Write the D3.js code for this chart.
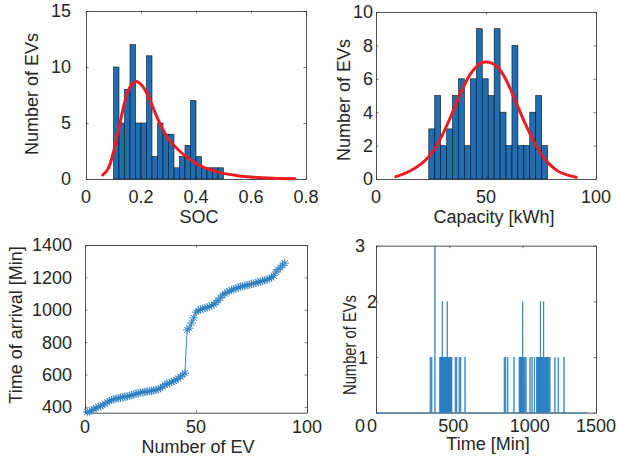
<!DOCTYPE html>
<meta charset="utf-8">
<head>
<style>
  body { margin: 0; background: #fff; }
  svg text { font-family: "Liberation Sans", Arial, sans-serif; fill: #262626; font-size: 18px; }
</style>
</head>
<body>
<svg id="fig" width="617" height="466"></svg>
<script src="https://d3js.org/d3.v7.min.js"></script>
<script>
// ---- data ----
// SOC histogram (20 bins, 0.10 .. 0.50)
var socEdges = [0.10,0.12,0.14,0.16,0.18,0.20,0.22,0.24,0.26,0.28,0.30,0.32,0.34,0.36,0.38,0.40,0.42,0.44,0.46,0.48,0.50];
var socCounts = [10,5,8,12,5,5,11,2,5,4,4,1,2,3,7,2,1,1,1,1];
// fitted curve (x, count)
var socFitX = [0.061,0.08,0.10,0.112,0.124,0.14,0.16,0.183,0.205,0.23,0.255,0.28,0.305,0.34,0.37,0.41,0.45,0.50,0.55,0.60,0.68,0.76];
var socFitY = [0.36,0.9,2.4,3.7,5.0,6.8,8.2,8.7,8.3,7.2,5.7,4.4,3.4,2.5,1.9,1.25,0.85,0.5,0.3,0.17,0.07,0.03];

// Capacity histogram (20 bins, 24 .. 78 kWh)
var capEdges = [24.0,26.7,29.4,32.1,34.8,37.5,40.2,42.9,45.6,48.3,51.0,53.7,56.4,59.1,61.8,64.5,67.2,69.9,72.6,75.3,78.0];
var capCounts = [3,5,2,3,5,6,2,6,9,6,5,9,4,2,8,2,2,4,5,2];
var capFitX = [9,15,21,25,30,34.5,39,43.5,48,50,52,55,58.5,63,67.5,72,77,83,91];
var capFitY = [0.14,0.45,0.95,1.5,2.6,3.9,5.3,6.4,6.95,7.0,6.97,6.75,6.1,4.8,3.4,2.2,1.15,0.45,0.1];

// sorted arrival time of each EV [min]
var arrival = [368,372,378,386,393,400,405,410,420,428,437,442,447,451,454,457,459,462,465,468,
  472,476,481,485,488,490,493,495,497,499,502,505,510,516,524,536,542,547,553,560,
  567,575,586,598,608,876,886,918,950,985,995,1002,1006,1010,1014,1020,1026,1033,1044,1058,
  1074,1090,1100,1108,1115,1121,1127,1132,1137,1142,1145,1149,1152,1155,1159,1162,1166,1170,1174,1178,
  1182,1187,1192,1198,1210,1233,1248,1260,1275,1288];

// EVs arriving per minute (nonzero minutes only)
var spikeTimes = [370,380,402,436,438,440,443,445,447,450,452,455,458,460,462,465,468,470,473,476,478,481,483,486,488,491,494,497,500,503,506,509,511,514,516,
  541,550,568,577,607,
  875,884,898,941,977,982,986,990,993,997,1000,1004,1009,1016,1023,1050,1064,1080,
  1096,1100,1104,1107,1111,1115,1118,1121,1125,1130,1134,1138,1143,1147,1152,1157,1160,1164,1169,1175,1180,1186,1220,1243,1282];
var spikeCounts = [1,1,3,1,1,1,1,1,1,1,2,1,1,1,1,1,1,1,1,1,1,1,1,2,1,1,1,1,1,1,1,1,1,1,1,
  1,1,1,1,1,
  1,1,1,1,1,1,1,1,1,1,2,1,1,1,1,1,1,1,
  1,1,1,1,1,1,1,2,1,1,1,1,2,1,1,1,1,1,1,1,1,1,1,1,1];

var socTicks = [0,0.2,0.4,0.6,0.8], socYTicks = [0,5,10,15];
var capTicks = [0,50,100], capYTicks = [0,2,4,6,8,10];
var evTicks = [0,50,100], arrYTicks = [400,600,800,1000,1200,1400];
var timeTicks = [0,500,1000,1500], numYTicks = [1,2,3];

var blue = "#0072BD", barFill = "#1f6db3", red = "#ec1c24", ink = "#262626";
var svg = d3.select("#fig");
svg.append("rect").attr("width", 617).attr("height", 466).attr("fill", "#fff");

function axes(b, xd, yd, xt, yt) {
  var x = d3.scaleLinear().domain(xd).range([b.l, b.r]);
  var y = d3.scaleLinear().domain(yd).range([b.b, b.t]);
  var g = svg.append("g").attr("color", ink).attr("stroke-width", 0.6);
  var tk = 2.5;
  g.append("g").attr("transform", "translate(0," + b.b + ")")
    .call(d3.axisBottom(x).tickValues(xt).tickSizeInner(-tk).tickSizeOuter(0).tickFormat(""));
  g.append("g").attr("transform", "translate(0," + b.t + ")")
    .call(d3.axisTop(x).tickValues(xt).tickSizeInner(-tk).tickSizeOuter(0).tickFormat(""));
  g.append("g").attr("transform", "translate(" + b.l + ",0)")
    .call(d3.axisLeft(y).tickValues(yt).tickSizeInner(-tk).tickSizeOuter(0).tickFormat(""));
  g.append("g").attr("transform", "translate(" + b.r + ",0)")
    .call(d3.axisRight(y).tickValues(yt).tickSizeInner(-tk).tickSizeOuter(0).tickFormat(""));
  g.selectAll("path.domain").attr("stroke-width", 0.8);
  return {x: x, y: y, g: g};
}
function xLabels(a, ticks, base, fmt, shift) {
  svg.append("g").selectAll("text").data(ticks).join("text")
    .attr("x", d => a.x(d) + (shift ? shift[d] : 0)).attr("y", base)
    .attr("text-anchor", "middle").text(fmt || (d => d));
}
function yLabels(a, ticks, right) {
  svg.append("g").selectAll("text").data(ticks).join("text")
    .attr("x", right).attr("y", d => a.y(d)).attr("dy", "0.36em").attr("text-anchor", "end").text(d => d);
}
function yTitle(txt, x, y, len) {
  var t = svg.append("text").attr("transform", "translate(" + x + "," + y + ") rotate(-90)")
    .attr("text-anchor", "middle").text(txt);
  if (len) t.attr("textLength", len).attr("lengthAdjust", "spacingAndGlyphs");
}
function hist(a, edges, counts) {
  a.g.insert("g", ":first-child").selectAll("rect").data(counts).join("rect")
    .attr("x", (d, i) => a.x(edges[i])).attr("width", (d, i) => a.x(edges[i + 1]) - a.x(edges[i]))
    .attr("y", d => a.y(d)).attr("height", d => a.y(0) - a.y(d))
    .attr("fill", barFill).attr("stroke", "#111").attr("stroke-width", 0.6);
}
function fit(a, xs, ys) {
  svg.append("path").datum(xs.map((v, i) => [v, ys[i]]))
    .attr("fill", "none").attr("stroke", red).attr("stroke-width", 3).attr("stroke-linecap", "round")
    .attr("d", d3.line().x(d => a.x(d[0])).y(d => a.y(d[1])).curve(d3.curveCatmullRom));
}

// --- SOC ---
var a1 = axes({l: 86, r: 306, t: 11, b: 179}, [0, 0.8], [0, 15], socTicks, socYTicks);
hist(a1, socEdges, socCounts);
fit(a1, socFitX, socFitY);
yLabels(a1, socYTicks, 71);
xLabels(a1, socTicks, 202.5, d => d === 0 ? "0" : d.toFixed(1));
svg.append("text").attr("x", 199).attr("y", 222.5).attr("text-anchor", "middle").text("SOC");
yTitle("Number of EVs", 38, 94);

// --- Capacity ---
var a2 = axes({l: 376, r: 596, t: 12, b: 179}, [0, 100], [0, 10], capTicks, capYTicks);
hist(a2, capEdges, capCounts);
fit(a2, capFitX, capFitY);
yLabels(a2, capYTicks, 373);
xLabels(a2, capTicks, 202.5);
svg.append("text").attr("x", 494).attr("y", 222.5).attr("text-anchor", "middle").text("Capacity [kWh]");
yTitle("Number of EVs", 350, 100);

// --- arrival ---
var a3 = axes({l: 85, r: 307, t: 245, b: 412.7}, [0, 100], [364, 1400], evTicks, arrYTicks);
var pts = arrival.map((v, i) => [i + 1, v]);
svg.append("path").datum(pts).attr("fill", "none").attr("stroke", blue).attr("stroke-width", 0.8)
  .attr("d", d3.line().x(d => a3.x(d[0])).y(d => a3.y(d[1])));
var r = 4.2, q = r * 0.72;
var star = "M" + -r + ",0H" + r + "M0," + -r + "V" + r + "M" + -q + "," + -q + "L" + q + "," + q + "M" + -q + "," + q + "L" + q + "," + -q;
svg.append("g").selectAll("path").data(pts).join("path")
  .attr("transform", d => "translate(" + a3.x(d[0]) + "," + a3.y(d[1]) + ")")
  .attr("d", star).attr("stroke", "#2a7fc2").attr("stroke-width", 0.9).attr("fill", "none");
yLabels(a3, arrYTicks, 72);
xLabels(a3, evTicks, 433);
svg.append("text").attr("x", 198).attr("y", 452.5).attr("text-anchor", "middle").text("Number of EV");
yTitle("Time of arrival [Min]", 21.5, 325);

// --- per-minute counts ---
var a4 = axes({l: 376, r: 596, t: 245.7, b: 412.7}, [0, 1500], [0, 3], timeTicks, [0].concat(numYTicks));
var series = [[0, 0]];
spikeTimes.forEach(function(t, i) { series.push([t - 1, 0], [t, spikeCounts[i]], [t + 1, 0]); });
series.push([1440, 0]);
svg.append("path").datum(series).attr("fill", "none").attr("stroke", "#2a7fc2").attr("stroke-width", 0.8)
  .attr("d", d3.line().x(d => a4.x(d[0])).y(d => a4.y(d[1])));
var nudge = {1: -8, 2: 1, 3: -11};
svg.append("g").selectAll("text").data(numYTicks).join("text")
  .attr("x", d => 376 + nudge[d]).attr("y", d => a4.y(d)).attr("dy", "0.36em").attr("text-anchor", "end").text(d => d);
svg.append("text").attr("x", 360).attr("y", 432).attr("text-anchor", "middle").text("0");
xLabels(a4, timeTicks, 432, null, {0: -4, 500: 4, 1000: 7, 1500: 0});
svg.append("text").attr("x", 488).attr("y", 450).attr("text-anchor", "middle").text("Time [Min]");
yTitle("Number of EVs", 356, 345, 100);
</script>
</body>
